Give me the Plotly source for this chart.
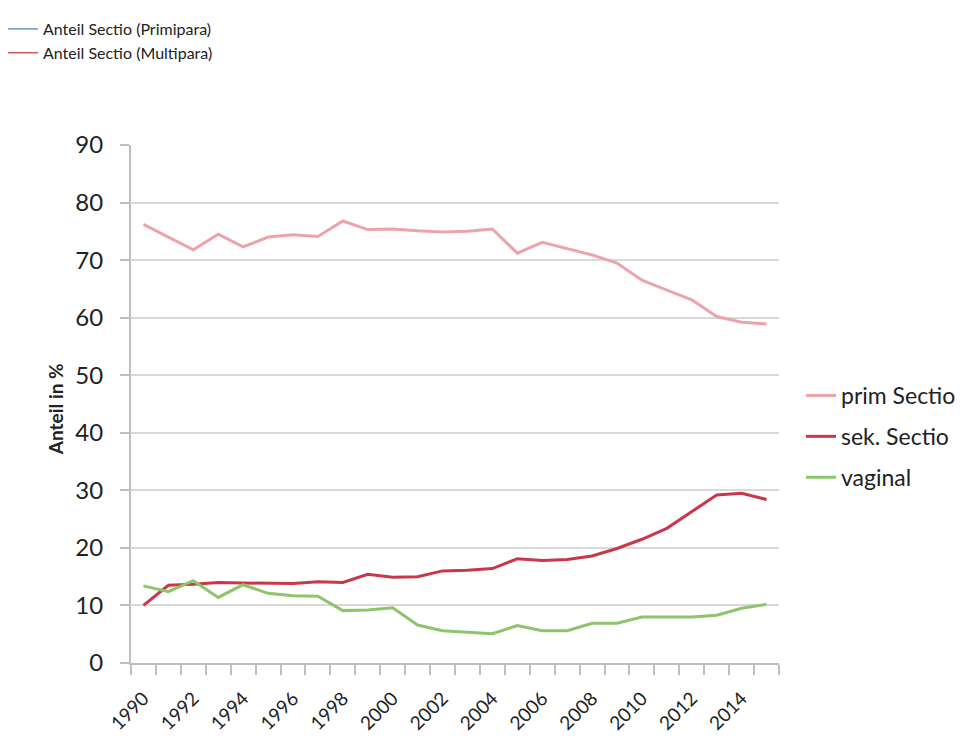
import plotly.graph_objects as go

years = list(range(1990, 2016))
prim_sectio = [76.2, 74.0, 71.8, 74.5, 72.3, 74.0, 74.4, 74.1, 76.8, 75.3, 75.4, 75.1, 74.9,
               75.0, 75.4, 71.2, 73.1, 72.0, 70.9, 69.5, 66.5, 64.8, 63.1, 60.2, 59.2, 58.9]
sek_sectio = [10.0, 13.5, 13.7, 14.0, 13.9, 13.8, 13.8, 14.1, 14.0, 15.4, 14.9, 15.0, 16.0,
              16.1, 16.4, 18.1, 17.8, 18.0, 18.6, 19.9, 21.5, 23.4, 26.3, 29.2, 29.5, 28.4]
vaginal = [13.4, 12.4, 14.3, 11.4, 13.6, 12.1, 11.7, 11.6, 9.1, 9.2, 9.6, 6.6, 5.6,
           5.3, 5.1, 6.5, 5.6, 5.6, 6.9, 6.9, 8.0, 8.0, 8.0, 8.3, 9.5, 10.2]
x_labels = [str(y) for y in range(1990, 2016, 2)]
y_ticks = list(range(0, 100, 10))

FONT = "Lato, Open Sans, sans-serif"
TXT = "#222222"
W, H = 976, 738

fig = go.Figure()
fig.add_trace(go.Scatter(x=years, y=prim_sectio, mode="lines", name="prim Sectio",
                         legendgroup="a", line=dict(color="#EBA5AA", width=3)))
fig.add_trace(go.Scatter(x=years, y=sek_sectio, mode="lines", name="sek. Sectio",
                         legendgroup="b", line=dict(color="#C8384A", width=3)))
fig.add_trace(go.Scatter(x=years, y=vaginal, mode="lines", name="vaginal",
                         legendgroup="c", line=dict(color="#8EC46C", width=3)))
# header legend entries (no data shown in this chart)
fig.add_trace(go.Scatter(x=[None], y=[None], mode="lines", name="Anteil Sectio (Primipara)",
                         legendgroup="d", line=dict(color="#6A95C4", width=1.5), legend="legend2"))
fig.add_trace(go.Scatter(x=[None], y=[None], mode="lines", name="Anteil Sectio (Multipara)",
                         legendgroup="e", line=dict(color="#C9555A", width=1.5), legend="legend2"))

fig.add_annotation(text="<b>Anteil in %</b>", xref="paper", yref="paper",
                   x=(55 - 131) / 648, y=0.49, xanchor="center", yanchor="middle",
                   textangle=-90, showarrow=False,
                   font=dict(size=19, color=TXT, family=FONT))

fig.update_layout(
    width=W, height=H,
    margin=dict(l=131, r=197, t=145, b=75, autoexpand=False),
    paper_bgcolor="white", plot_bgcolor="white",
    font=dict(family=FONT, color=TXT),
    legend=dict(x=801 / W, y=1 - 374 / H, xref="container", yref="container",
                xanchor="left", yanchor="top",
                font=dict(size=23, color=TXT), tracegroupgap=8,
                itemwidth=30, bgcolor="rgba(0,0,0,0)"),
    legend2=dict(x=0.003, y=1 - 12 / H, xref="container", yref="container",
                 xanchor="left", yanchor="top", font=dict(size=16, color=TXT),
                 tracegroupgap=0, itemwidth=30, bgcolor="rgba(0,0,0,0)"),
    xaxis=dict(
        range=[1989.5, 2015.5],
        tickmode="array", tickvals=[int(s) for s in x_labels], ticktext=x_labels,
        tickangle=-45, tickfont=dict(size=19, color=TXT),
        ticks="", ticklabelstandoff=15, showgrid=False, zeroline=False,
        showline=True, linecolor="#BFBFBF", linewidth=2,
        minor=dict(tick0=1989.5, dtick=1, ticks="outside", ticklen=10,
                   tickcolor="#BFBFBF", tickwidth=1.5, showgrid=False),
        automargin=False,
    ),
    yaxis=dict(
        range=[0, 90], tickvals=y_ticks, tickfont=dict(size=24, color=TXT),
        showgrid=True, gridcolor="#D9D9D9", gridwidth=2,
        zeroline=False, showline=True, linecolor="#BFBFBF", linewidth=2,
        ticks="outside", ticklen=9, tickcolor="#BFBFBF", tickwidth=1.5,
        ticklabelstandoff=12,
        automargin=False,
    ),
)

fig.write_html("out.html")
